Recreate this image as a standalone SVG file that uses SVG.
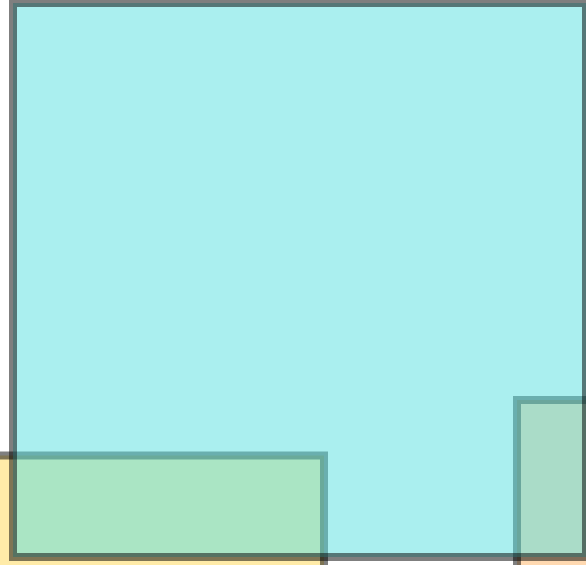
<svg xmlns="http://www.w3.org/2000/svg" width="586" height="565" viewBox="0 0 586 565">
  <style>
    .box { stroke: #000000; stroke-opacity: 0.5; stroke-width: 8; }
    .yellow { fill: #FFD751; fill-opacity: 0.5; }
    .peach { fill: #FFB363; fill-opacity: 0.5; }
    .cyan { fill: #55DFDF; fill-opacity: 0.5; }
  </style>
  <rect x="0" y="0" width="586" height="565" fill="#FFFFFF"/>
  <g id="node-bottom-left">
    <rect class="box yellow" x="-60" y="455.5" width="384" height="200"/>
  </g>
  <g id="node-bottom-right">
    <rect class="box peach" x="517" y="400" width="200" height="250"/>
  </g>
  <g id="node-main">
    <rect class="box cyan" x="13" y="3" width="573" height="554"/>
  </g>
</svg>
